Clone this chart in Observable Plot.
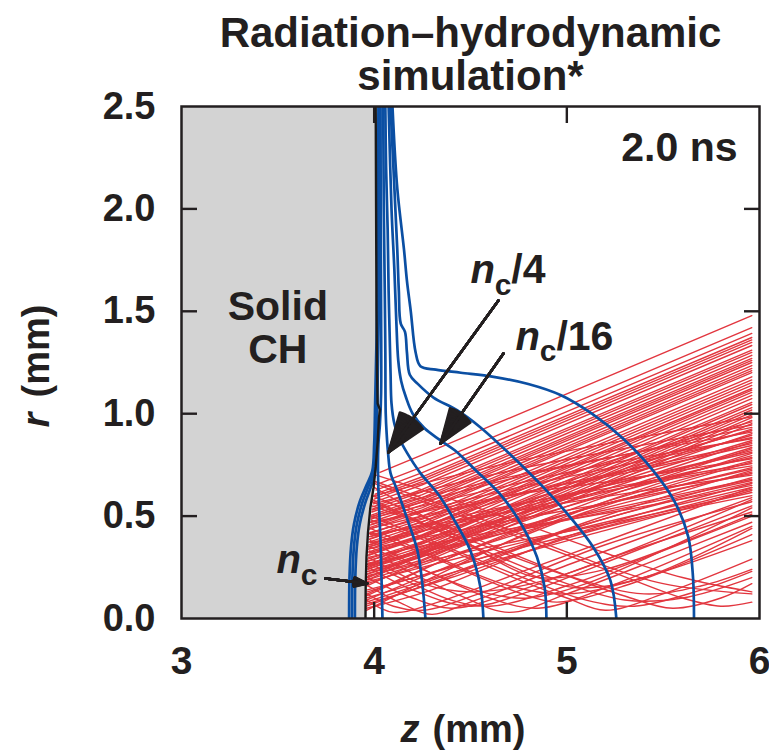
<!DOCTYPE html>
<html><head><meta charset="utf-8">
<script src="https://cdn.jsdelivr.net/npm/d3@7"></script>
<script src="https://cdn.jsdelivr.net/npm/@observablehq/plot@0.6"></script>
<style>body{margin:0;background:#fff;} svg{display:block}</style>
</head><body><div id="chart"></div>
<script>
// ---- axes ----
const zTicks = [3, 4, 5, 6];
const rTicks = [0, 0.5, 1.0, 1.5, 2.0, 2.5];
const zInnerTicks = [4, 5];
const rInnerTicks = [0.5, 1.0, 1.5, 2.0];

// ---- solid CH boundary (z, r) ----
const solidEdge = [[3.955,0],[3.956,0.15],[3.96,0.3],[3.968,0.42],[3.98,0.54],[3.997,0.64],[4.008,0.74],[4.018,0.86],[4.025,0.98],[4.03,1.02],[4.018,1.05],[4.015,1.2],[4.012,1.5],[4.01,2.0],[4.008,2.5]];

// ---- density contours (z, r) ----
const cNc64 = [[5.66,0],[5.655,0.2],[5.63,0.4],[5.56,0.57],[5.45,0.72],[5.29,0.88],[5.13,1.0],[4.97,1.09],[4.80,1.145],[4.62,1.18],[4.45,1.20],[4.32,1.215],[4.24,1.232],[4.215,1.3],[4.19,1.5],[4.17,1.65],[4.155,1.8],[4.12,2.1],[4.095,2.5]];
const cNc32 = [[5.257,0],[5.226,0.186],[5.138,0.347],[5.019,0.493],[4.879,0.64],[4.723,0.786],[4.552,0.933],[4.432,1.016],[4.308,1.079],[4.225,1.147],[4.185,1.19],[4.17,1.3],[4.16,1.40],[4.138,1.44],[4.128,1.6],[4.12,1.8],[4.105,2.1],[4.085,2.5]];
const cNc16 = [[4.894,0],[4.885,0.15],[4.845,0.30],[4.77,0.45],[4.66,0.60],[4.52,0.73],[4.42,0.82],[4.344,0.87],[4.26,0.93],[4.20,1.0],[4.165,1.08],[4.14,1.16],[4.125,1.26],[4.115,1.45],[4.105,1.7],[4.09,2.0],[4.075,2.5]];
const cNc8 = [[4.567,0],[4.552,0.15],[4.50,0.33],[4.41,0.49],[4.33,0.61],[4.24,0.71],[4.17,0.81],[4.13,0.88],[4.105,0.95],[4.09,1.05],[4.085,1.2],[4.08,1.4],[4.075,1.6],[4.07,1.9],[4.062,2.2],[4.058,2.5]];
const cNc4 = [[4.266,0],[4.25,0.17],[4.225,0.33],[4.17,0.49],[4.12,0.625],[4.085,0.71],[4.072,0.81],[4.065,0.9],[4.06,1.0],[4.058,1.3],[4.055,1.6],[4.05,2.0],[4.047,2.5]];
const cNc2 = [[4.043,0],[4.038,0.2],[4.033,0.38],[4.025,0.55],[4.02,0.71],[4.022,0.85],[4.03,0.95],[4.036,1.1],[4.036,1.5],[4.034,2.0],[4.033,2.5]];
const cHigh1 = [[3.87,0],[3.872,0.2],[3.88,0.35],[3.895,0.46],[3.925,0.57],[3.96,0.65],[3.99,0.72],[4.0,0.85],[4.005,1.05],[4.015,1.5],[4.02,2.0],[4.022,2.5]];
const cHigh2 = [[3.885,0],[3.887,0.2],[3.895,0.35],[3.91,0.46],[3.94,0.57],[3.972,0.65],[3.998,0.72],[4.006,0.85],[4.01,1.05],[4.02,1.5],[4.025,2.0],[4.027,2.5]];
const cHigh3 = [[3.90,0],[3.902,0.2],[3.91,0.35],[3.925,0.46],[3.952,0.56],[3.982,0.64],[4.004,0.71],[4.012,0.85],[4.016,1.05],[4.024,1.5],[4.028,2.0],[4.03,2.5]];

// ---- laser rays, incoming (z, r) ----
const raysIn = [
 [[5.96,1.479],[4.25,0.799],[4.03,0.714]],
 [[5.96,1.42],[4.25,0.74],[4.015,0.655]],
 [[5.96,1.392],[4.25,0.712],[4.01,0.627]],
 [[5.96,1.372],[4.25,0.692],[4.005,0.607]],
 [[5.96,1.36],[4.25,0.68],[4.002,0.595]],
 [[5.96,1.348],[4.25,0.668],[4.0,0.583]],
 [[5.96,1.333],[4.25,0.653],[4.0,0.568]],
 [[5.96,1.31],[4.25,0.63],[3.992,0.545]],
 [[5.96,1.299],[4.25,0.619],[3.99,0.534]],
 [[5.96,1.285],[4.25,0.605],[3.988,0.52]],
 [[5.96,1.270],[4.25,0.590],[3.985,0.505]],
 [[5.96,1.26],[4.25,0.58],[3.985,0.495]],
 [[5.96,1.250],[4.25,0.570],[3.985,0.485]],
 [[5.96,1.235],[4.25,0.555],[3.98,0.470]],
 [[5.96,1.221],[4.25,0.541],[3.98,0.456]],
 [[5.96,1.21],[4.25,0.53],[3.979,0.445]],
 [[5.96,1.201],[4.25,0.521],[3.978,0.436]],
 [[5.96,1.18],[4.25,0.50],[3.977,0.415]],
 [[5.96,1.165],[4.25,0.485],[3.976,0.40]],
 [[5.96,1.152],[4.25,0.472],[3.975,0.387]],
 [[5.96,1.138],[4.25,0.458],[3.972,0.373]],
 [[5.96,1.123],[4.25,0.443],[3.97,0.358]],
 [[5.96,1.115],[4.25,0.435],[3.97,0.35]],
 [[5.96,1.104],[4.25,0.424],[3.97,0.339]],
 [[5.96,1.089],[4.25,0.409],[3.968,0.324]],
 [[5.96,1.074],[4.25,0.394],[3.967,0.309]],
 [[5.96,1.055],[4.25,0.375],[3.966,0.290]],
 [[5.96,1.045],[4.25,0.365],[3.966,0.28]],
 [[5.96,1.030],[4.25,0.350],[3.965,0.265]],
 [[5.96,1.018],[4.25,0.338],[3.964,0.253]],
 [[5.96,1.006],[4.25,0.326],[3.963,0.241]],
 [[5.96,0.994],[4.25,0.314],[3.963,0.229]],
 [[5.96,0.981],[4.25,0.301],[3.962,0.216]],
 [[5.96,0.967],[4.25,0.287],[3.96,0.202]],
 [[5.96,0.952],[4.25,0.272],[3.96,0.187]]
];
// ---- laser rays, outgoing (z, r) ----
const raysOut = [
 [[3.99,0.60],[4.5,0.40],[5.0,0.21],[5.3,0.11],[5.55,0.05],[5.8,0.10],[5.96,0.17]],
 [[3.985,0.48],[4.4,0.33],[4.8,0.17],[5.0,0.10],[5.2,0.04],[5.5,0.12],[5.96,0.29]],
 [[3.98,0.42],[4.3,0.30],[4.6,0.18],[4.8,0.11],[4.95,0.08],[5.3,0.16],[5.96,0.41]],
 [[3.975,0.33],[4.2,0.22],[4.45,0.11],[4.7,0.03],[5.0,0.12],[5.5,0.30],[5.96,0.47]],
 [[3.97,0.25],[4.2,0.14],[4.5,0.06],[4.8,0.13],[5.3,0.31],[5.96,0.55]],
 [[3.965,0.16],[4.15,0.07],[4.3,0.02],[4.5,0.08],[5.0,0.26],[5.96,0.59]],
 [[4.0,0.66],[4.6,0.45],[5.2,0.24],[5.6,0.10],[5.8,0.06],[5.96,0.08]],
 [[4.01,0.70],[4.6,0.52],[5.2,0.32],[5.6,0.20],[5.96,0.13]],
 [[3.99,0.55],[4.5,0.38],[5.0,0.21],[5.4,0.12],[5.7,0.16],[5.96,0.24]],
 [[3.96,0.09],[4.1,0.03],[4.3,0.07],[4.8,0.24],[5.96,0.64]],
 [[3.99,0.58],[4.4,0.40],[4.8,0.22],[5.05,0.15],[5.4,0.20],[5.96,0.44]],
 [[4.0,0.64],[4.4,0.42],[4.7,0.25],[4.85,0.20],[5.2,0.24],[5.96,0.51]],
 [[3.98,0.38],[4.3,0.22],[4.6,0.12],[4.8,0.10],[5.1,0.17],[5.96,0.54]],
 [[3.97,0.30],[4.25,0.17],[4.5,0.13],[4.9,0.19],[5.96,0.58]],
 [[3.985,0.50],[4.4,0.34],[4.8,0.19],[5.1,0.09],[5.35,0.06],[5.7,0.14],[5.96,0.23]],
 [[3.975,0.35],[4.3,0.22],[4.6,0.10],[4.85,0.05],[5.2,0.15],[5.96,0.45]],
 [[3.97,0.27],[4.2,0.17],[4.4,0.09],[4.6,0.06],[5.0,0.16],[5.96,0.50]],
 [[3.99,0.57],[4.5,0.36],[5.0,0.17],[5.3,0.09],[5.6,0.10],[5.96,0.20]],
 [[3.98,0.44],[4.3,0.31],[4.7,0.16],[5.0,0.12],[5.4,0.20],[5.96,0.38]],
 [[3.965,0.20],[4.2,0.10],[4.4,0.05],[4.7,0.12],[5.3,0.32],[5.96,0.52]],
 [[4.0,0.67],[4.6,0.47],[5.1,0.29],[5.5,0.17],[5.96,0.12]],
 [[3.96,0.12],[4.1,0.06],[4.25,0.04],[4.6,0.14],[5.2,0.36],[5.96,0.57]],
 [[3.96,0.07],[4.4,0.20],[5.1,0.42],[5.96,0.60]],
 [[3.97,0.21],[4.6,0.35],[5.3,0.48],[5.96,0.615]],
 [[3.96,0.10],[4.5,0.25],[5.2,0.43],[5.96,0.625]],
 [[3.965,0.13],[4.5,0.28],[5.2,0.45],[5.96,0.632]],
 [[3.965,0.18],[4.5,0.31],[5.2,0.47],[5.96,0.64]],
 [[3.975,0.30],[4.6,0.42],[5.3,0.53],[5.96,0.65]],
 [[3.96,0.05],[4.3,0.14],[5.0,0.40],[5.96,0.659]],
 [[3.96,0.06],[4.4,0.21],[5.1,0.46],[5.96,0.665]],
 [[3.97,0.26],[4.6,0.40],[5.3,0.54],[5.96,0.674]],
 [[3.97,0.27],[4.5,0.38],[5.2,0.53],[5.96,0.68]],
 [[3.965,0.14],[4.4,0.25],[5.1,0.46],[5.96,0.688]],
 [[3.98,0.41],[4.7,0.52],[5.3,0.61],[5.96,0.70]],
 [[3.975,0.34],[4.6,0.46],[5.3,0.58],[5.96,0.708]],
 [[3.965,0.17],[4.5,0.34],[5.2,0.54],[5.96,0.715]],
 [[3.96,0.08],[4.4,0.22],[5.1,0.47],[5.96,0.723]],
 [[3.97,0.23],[4.5,0.37],[5.2,0.56],[5.96,0.73]],
 [[3.97,0.22],[4.5,0.38],[5.2,0.56],[5.96,0.737]],
 [[3.98,0.37],[4.6,0.50],[5.3,0.64],[5.96,0.745]],
 [[3.98,0.40],[4.7,0.55],[5.3,0.65],[5.96,0.757]],
 [[3.96,0.09],[4.4,0.26],[5.1,0.52],[5.96,0.765]],
 [[3.965,0.12],[4.4,0.30],[5.1,0.54],[5.96,0.771]],
 [[3.985,0.47],[4.7,0.60],[5.3,0.68],[5.96,0.78]],
 [[3.97,0.28],[4.6,0.47],[5.3,0.64],[5.96,0.786]],
 [[3.97,0.25],[4.5,0.41],[5.2,0.60],[5.96,0.795]],
 [[3.96,0.04],[4.3,0.20],[5.0,0.50],[5.96,0.806]],
 [[3.975,0.35],[4.6,0.52],[5.3,0.67],[5.96,0.812]],
 [[3.975,0.32],[4.6,0.50],[5.3,0.67],[5.96,0.82]],
 [[3.96,0.11],[4.4,0.30],[5.1,0.56],[5.96,0.828]],
 [[3.965,0.16],[4.5,0.38],[5.2,0.61],[5.96,0.835]],
 [[3.98,0.42],[4.7,0.60],[5.3,0.71],[5.96,0.845]],
 [[3.98,0.44],[4.7,0.60],[5.3,0.72],[5.96,0.854]],
 [[3.97,0.19],[4.5,0.41],[5.2,0.63],[5.96,0.862]],
 [[3.97,0.24],[4.5,0.43],[5.2,0.65],[5.96,0.869]],
 [[3.985,0.49],[4.7,0.65],[5.3,0.77],[5.96,0.878]],
 [[3.985,0.46],[4.7,0.63],[5.3,0.75],[5.96,0.884]],
 [[3.975,0.31],[4.6,0.52],[5.3,0.72],[5.96,0.895]],
 [[3.97,0.20],[4.5,0.42],[5.2,0.66],[5.96,0.903]],
 [[3.99,0.53],[4.7,0.69],[5.3,0.80],[5.96,0.91]],
 [[3.98,0.36],[4.6,0.56],[5.3,0.75],[5.96,0.918]],
 [[3.97,0.26],[4.5,0.47],[5.2,0.70],[5.96,0.925]],
 [[3.99,0.50],[4.7,0.68],[5.3,0.80],[5.96,0.933]],
 [[3.995,0.56],[4.7,0.72],[5.3,0.83],[5.96,0.945]],
 [[3.98,0.39],[4.6,0.58],[5.3,0.79],[5.96,0.96]],
 [[4.0,0.60],[4.7,0.76],[5.3,0.87],[5.96,0.985]]
];

// ---- annotations ----
const titleText = "Radiation–hydrodynamic\nsimulation*";
const timeText = "2.0 ns";
const solidText = [{text: "Solid\nCH", z: 3.5, r: 1.25}];
const densityN = [{text: "n", z: 4.500, r: 1.636}, {text: "n", z: 4.733, r: 1.309}, {text: "n", z: 3.493, r: 0.220}];
const densityC = [{text: "c", z: 4.626, r: 1.582}, {text: "c", z: 4.860, r: 1.255}, {text: "c", z: 3.619, r: 0.166}];
const densityFrac = [{text: "/4", z: 4.712, r: 1.636}, {text: "/16", z: 4.946, r: 1.309}];
const arrows = [
  {z1: 4.645, r1: 1.553, z2: 4.074, r2: 0.811},
  {z1: 4.671, r1: 1.294, z2: 4.344, r2: 0.854},
  {z1: 3.747, r1: 0.195, z2: 3.965, r2: 0.171}
];

const toRows = lines => lines.flatMap((pts, i) => pts.map(([z, r]) => ({z, r, id: i})));
const edgeRows = solidEdge.map(([z, r]) => ({z, r}));
const contourRows = toRows([cNc64, cNc32, cNc16, cNc8, cNc4, cNc2, cHigh1, cHigh2, cHigh3]);
const inRows = toRows(raysIn);
const outRows = toRows(raysOut);

const RED = "#e2363f", BLUE = "#0b4fa3", INK = "#231f20";
const FONT = "'Liberation Sans', Arial, Helvetica, sans-serif";

const headMarks = [4, 8, 12, 16, 20, 24, 28, 32, 36, 40].map(a =>
  Plot.arrow(arrows, {x1: "z1", y1: "r1", x2: "z2", y2: "r2", stroke: INK, strokeWidth: 2.4, headAngle: a, headLength: 26}));

const chart = Plot.plot({
  width: 769, height: 755,
  marginLeft: 181, marginRight: 10, marginTop: 106, marginBottom: 137,
  x: {domain: [3, 6], label: null},
  y: {domain: [0, 2.5], label: null},
  style: {fontFamily: FONT, fontWeight: "bold", color: INK, background: "#fff", overflow: "visible"},
  marks: [
    Plot.areaX(edgeRows, {x1: 3, x2: "z", y: "r", fill: "#d3d3d3"}),
    Plot.line(inRows, {x: "z", y: "r", z: "id", stroke: RED, strokeWidth: 1.4, clip: true}),
    Plot.line(outRows, {x: "z", y: "r", z: "id", stroke: RED, strokeWidth: 1.4, curve: "catmull-rom", clip: true}),
    Plot.line(contourRows, {x: "z", y: "r", z: "id", stroke: BLUE, strokeWidth: 2.7, curve: "catmull-rom", clip: true}),
    Plot.line(edgeRows, {x: "z", y: "r", stroke: "#1a1a1a", strokeWidth: 2.4, clip: true}),
    Plot.frame({stroke: INK, strokeWidth: 2.5}),
    Plot.axisX({anchor: "bottom", ticks: zTicks, tickSize: 0, tickPadding: 28, fontSize: 39, label: null, tickFormat: d3.format("d")}),
    Plot.axisY({anchor: "left", ticks: rTicks, tickSize: 0, tickPadding: 26, fontSize: 38, label: null, tickFormat: d3.format(".1f")}),
    Plot.axisX({anchor: "bottom", ticks: zInnerTicks, tickSize: -16, tickFormat: () => "", label: null, stroke: INK, strokeWidth: 2.4}),
    Plot.axisX({anchor: "top", ticks: zInnerTicks, tickSize: -16, tickFormat: () => "", label: null, stroke: INK, strokeWidth: 2.4}),
    Plot.axisY({anchor: "left", ticks: rInnerTicks, tickSize: -16, tickFormat: () => "", label: null, stroke: INK, strokeWidth: 2.4}),
    Plot.axisY({anchor: "right", ticks: rInnerTicks, tickSize: -16, tickFormat: () => "", label: null, stroke: INK, strokeWidth: 2.4}),
    Plot.text([titleText], {text: d => d, frameAnchor: "top", dy: -17, lineAnchor: "bottom", lineHeight: 1.02, fontSize: 42, fontWeight: "bold", fill: INK}),
    Plot.text([timeText], {text: d => d, frameAnchor: "top-right", textAnchor: "end", dx: -22, dy: 54, lineAnchor: "bottom", fontSize: 41, fontWeight: "bold", fill: INK}),
    Plot.text(solidText, {x: "z", y: "r", text: "text", lineAnchor: "bottom", lineHeight: 1.03, fontSize: 41, fontWeight: "bold", fill: INK}),
    Plot.text(densityN, {x: "z", y: "r", text: "text", textAnchor: "start", lineAnchor: "bottom", fontSize: 40, fontStyle: "italic", fontWeight: "bold", fill: INK}),
    Plot.text(densityC, {x: "z", y: "r", text: "text", textAnchor: "start", lineAnchor: "bottom", fontSize: 30, fontWeight: "bold", fill: INK}),
    Plot.text(densityFrac, {x: "z", y: "r", text: "text", textAnchor: "start", lineAnchor: "bottom", fontSize: 41, fontWeight: "bold", fill: INK}),
    ...headMarks,
    Plot.text(["z"], {text: d => d, frameAnchor: "bottom", dx: -70, dy: 123, textAnchor: "start", lineAnchor: "bottom", fontSize: 38, fontStyle: "italic", fontWeight: "bold", fill: INK}),
    Plot.text(["(mm)"], {text: d => d, frameAnchor: "bottom", dx: -38, dy: 123, textAnchor: "start", lineAnchor: "bottom", fontSize: 38, fontWeight: "bold", fill: INK}),
    Plot.text(["r"], {text: d => d, frameAnchor: "left", dx: -145, dy: 65, rotate: -90, textAnchor: "start", lineAnchor: "middle", fontSize: 38, fontStyle: "italic", fontWeight: "bold", fill: INK}),
    Plot.text(["(mm)"], {text: d => d, frameAnchor: "left", dx: -145, dy: 35, rotate: -90, textAnchor: "start", lineAnchor: "middle", fontSize: 38, fontWeight: "bold", fill: INK})
  ]
});
document.getElementById("chart").append(chart);
</script>
</body></html>
